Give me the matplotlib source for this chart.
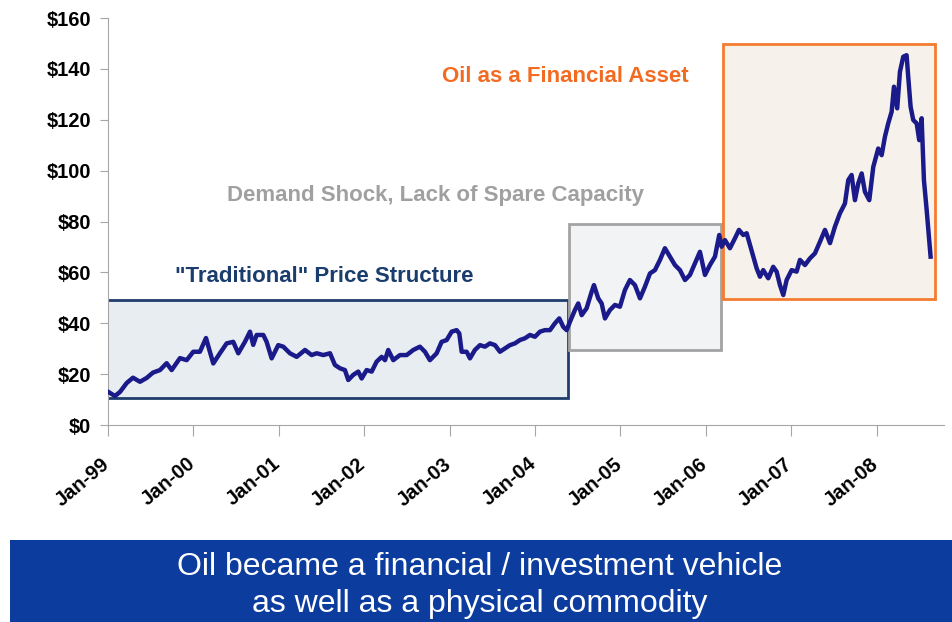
import matplotlib.pyplot as plt
from matplotlib.patches import Rectangle
from matplotlib.transforms import ScaledTranslation

# price path (decimal year, $/bbl)
years = [1999.000, 1999.082, 1999.141, 1999.219, 1999.293, 1999.375, 1999.453, 1999.527,
         1999.609, 1999.687, 1999.746, 1999.843, 1999.922, 1999.999, 2000.077, 2000.148,
         2000.233, 2000.311, 2000.390, 2000.467, 2000.526, 2000.604, 2000.663, 2000.701,
         2000.741, 2000.819, 2000.858, 2000.917, 2000.994, 2001.053, 2001.131, 2001.210,
         2001.307, 2001.385, 2001.444, 2001.521, 2001.600, 2001.658, 2001.717, 2001.775,
         2001.814, 2001.872, 2001.931, 2001.971, 2002.029, 2002.088, 2002.146, 2002.205,
         2002.244, 2002.282, 2002.341, 2002.419, 2002.498, 2002.575, 2002.653, 2002.712,
         2002.770, 2002.849, 2002.907, 2002.966, 2003.025, 2003.083, 2003.114, 2003.142,
         2003.200, 2003.239, 2003.297, 2003.356, 2003.415, 2003.473, 2003.532, 2003.590,
         2003.649, 2003.707, 2003.766, 2003.824, 2003.883, 2003.941, 2004.000, 2004.059,
         2004.117, 2004.176, 2004.234, 2004.285, 2004.331, 2004.371, 2004.410, 2004.468,
         2004.507, 2004.547, 2004.605, 2004.664, 2004.691, 2004.741, 2004.781, 2004.820,
         2004.878, 2004.937, 2004.995, 2005.054, 2005.112, 2005.171, 2005.230, 2005.288,
         2005.347, 2005.405, 2005.464, 2005.522, 2005.581, 2005.639, 2005.698, 2005.757,
         2005.815, 2005.874, 2005.932, 2005.991, 2006.049, 2006.108, 2006.158, 2006.186,
         2006.225, 2006.283, 2006.342, 2006.389, 2006.439, 2006.479, 2006.518, 2006.556,
         2006.596, 2006.635, 2006.673, 2006.732, 2006.790, 2006.830, 2006.869, 2006.908,
         2006.947, 2007.006, 2007.064, 2007.103, 2007.162, 2007.220, 2007.279, 2007.337,
         2007.396, 2007.455, 2007.513, 2007.571, 2007.630, 2007.669, 2007.708, 2007.747,
         2007.786, 2007.826, 2007.864, 2007.915, 2007.962, 2008.020, 2008.060, 2008.098,
         2008.137, 2008.177, 2008.204, 2008.242, 2008.274, 2008.313, 2008.352, 2008.371,
         2008.399, 2008.430, 2008.470, 2008.500, 2008.528, 2008.555, 2008.587, 2008.617,
         2008.633]
prices = [13.1, 11.4, 13.0, 16.5, 18.6, 17.0, 18.5, 20.6,
          21.6, 24.3, 21.6, 26.3, 25.5, 28.8, 28.8, 34.2,
          24.2, 28.2, 32.1, 32.7, 28.2, 32.7, 36.7, 31.5,
          35.4, 35.4, 32.7, 26.2, 31.4, 30.8, 28.2, 26.8,
          29.5, 27.5, 28.2, 27.5, 28.2, 23.6, 22.3, 21.6,
          17.7, 19.7, 21.0, 18.3, 21.6, 21.0, 24.9, 26.8,
          25.5, 29.5, 25.5, 27.5, 27.5, 29.5, 30.8, 28.8,
          25.5, 28.2, 32.7, 33.4, 36.7, 37.3, 36.0, 28.8,
          28.8, 26.2, 29.5, 31.4, 30.8, 32.1, 31.4, 28.8,
          30.1, 31.4, 32.1, 33.4, 34.1, 35.4, 34.7, 36.7,
          37.3, 37.3, 40.0, 41.9, 38.6, 37.3, 40.6, 45.2,
          47.8, 43.2, 45.9, 52.4, 55.0, 49.8, 47.8, 41.9,
          45.2, 47.2, 46.5, 53.1, 57.0, 55.0, 49.8, 54.4,
          59.6, 60.9, 64.9, 69.5, 66.2, 62.9, 60.9, 57.0,
          59.0, 63.6, 68.1, 59.0, 62.9, 66.2, 74.7, 70.1,
          72.7, 69.5, 73.4, 76.7, 74.7, 75.4, 70.8, 66.2,
          61.6, 58.3, 60.9, 57.7, 62.2, 60.3, 55.0, 51.1,
          57.0, 60.9, 60.3, 64.9, 62.9, 65.5, 67.5, 72.0,
          76.7, 71.5, 78.0, 83.2, 87.1, 96.3, 98.3, 88.4,
          95.0, 98.9, 91.7, 88.4, 101.5, 108.7, 106.1, 113.3,
          118.6, 123.2, 133.0, 124.5, 138.9, 144.8, 145.4, 136.9,
          125.1, 119.9, 118.6, 112.0, 120.6, 96.3, 84.5, 72.7,
          66.2]

tick_years = [1999, 2000, 2001, 2002, 2003, 2004, 2005, 2006, 2007, 2008]
tick_labels = ["Jan-99", "Jan-00", "Jan-01", "Jan-02", "Jan-03",
               "Jan-04", "Jan-05", "Jan-06", "Jan-07", "Jan-08"]
y_ticks = [0, 20, 40, 60, 80, 100, 120, 140, 160]

# phases: (x0, x1, y0, y1)
phase_traditional = (1998.99, 2004.39, 10.6, 49.1)
phase_demand = (2004.40, 2006.18, 29.5, 79.0)
phase_financial = (2006.20, 2008.68, 49.5, 149.8)

plt.rcParams['font.family'] = ['Liberation Sans', 'DejaVu Sans']

fig = plt.figure(figsize=(9.52, 6.22), dpi=100)
ax = fig.add_axes([0.1134, 0.3167, 0.8782, 0.6543])

def box(rng, face, edge):
    x0, x1, y0, y1 = rng
    ax.add_patch(Rectangle((x0, y0), x1 - x0, y1 - y0, facecolor=face,
                           edgecolor=edge, linewidth=2, zorder=1))

box(phase_traditional, '#e8edf1', '#1f3d6b')
box(phase_demand, '#f2f3f4', '#a3a3a3')
box(phase_financial, '#f6f1ea', '#f47c30')

ax.plot(years, prices, color='#1a1a8a', linewidth=3.2, zorder=3)

ax.text(2001.53, 58.2, '"Traditional" Price Structure', color='#1b3d6e',
        fontsize=16, fontweight='bold', ha='center', va='center')
ax.text(2002.84, 90.4, 'Demand Shock, Lack of Spare Capacity', color='#a0a0a0',
        fontsize=16, fontweight='bold', ha='center', va='center')
ax.text(2004.35, 137.2, 'Oil as a Financial Asset', color='#f26b21',
        fontsize=16, fontweight='bold', ha='center', va='center')

ax.set_xlim(1999, 2008.79)
ax.set_ylim(0, 160)
ax.set_yticks(y_ticks)
ax.set_yticklabels(['$%d' % v for v in y_ticks], fontsize=14.5, fontweight='bold')
ax.set_xticks(tick_years)
ax.set_xticklabels(tick_labels, fontsize=14.5, fontweight='bold',
                   rotation=40, ha='right', va='top', rotation_mode='anchor')
ax.tick_params(axis='y', length=6, color='#a6a6a6', pad=6)
ax.tick_params(axis='x', length=8, color='#a6a6a6', pad=13)
shift = ScaledTranslation(-5 / 72, 0, fig.dpi_scale_trans)
for lab in ax.get_xticklabels():
    lab.set_transform(lab.get_transform() + shift)
for s in ['top', 'right']:
    ax.spines[s].set_visible(False)
for s in ['left', 'bottom']:
    ax.spines[s].set_color('#a6a6a6')
ax.patch.set_visible(False)

# banner at the bottom
fig.patches.append(Rectangle((0.0105, 0), 0.99, 0.1318, transform=fig.transFigure,
                             facecolor='#0b3c9e', edgecolor='none', zorder=0))
fig.text(0.504, 0.088, 'Oil became a financial / investment vehicle', color='white',
         fontsize=23, ha='center', va='center')
fig.text(0.504, 0.029, 'as well as a physical commodity', color='white',
         fontsize=23, ha='center', va='center')

fig.savefig('out.png', dpi=100)
